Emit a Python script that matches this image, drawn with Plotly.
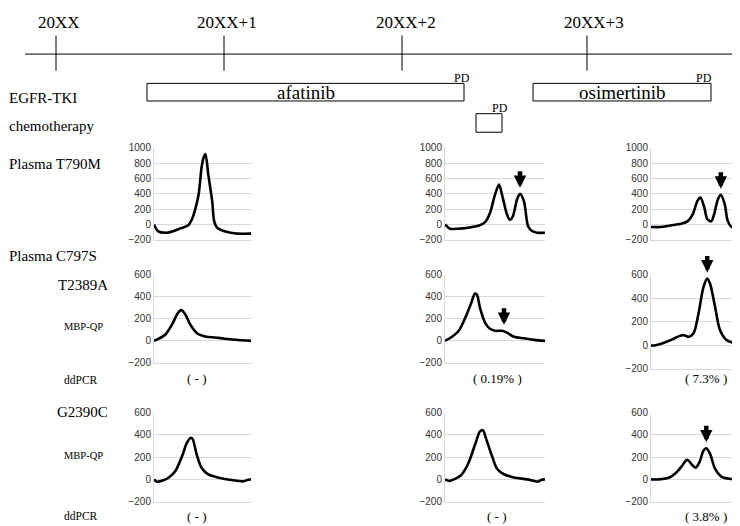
import plotly.graph_objects as go

W, H = 740, 526

# ---------------- data ----------------
year_labels = ["20XX", "20XX+1", "20XX+2", "20XX+3"]
drug_labels = ["afatinib", "osimertinib"]
row_labels = ["EGFR-TKI", "chemotherapy", "Plasma T790M", "Plasma C797S"]
mut_labels = ["T2389A", "G2390C"]
ddpcr_t2389a = ["( - )", "( 0.19% )", "( 7.3% )"]
ddpcr_g2390c = ["( - )", "( - )", "( 3.8% )"]

# Plasma T790M (MBP-QP curves)
t790m_a_x = [0, 4, 13, 20, 27, 35, 39, 42, 46, 49, 51, 53, 56, 60, 62, 65, 72, 79, 86, 100]
t790m_a_y = [0, -87, -108, -87, -52, -15, 65, 174, 390, 740, 870, 920, 650, 300, 43, -43, -87, -108, -120, -120]
t790m_b_x = [0, 5, 13, 23, 34, 40, 45, 50, 54, 57, 62, 65, 68, 72, 75, 79, 83, 87, 92, 100]
t790m_b_y = [0, -56, -56, -43, -15, 30, 150, 390, 520, 390, 130, 60, 110, 325, 400, 300, -20, -86, -108, -108]
t790m_c_x = [0, 10, 20, 31, 38, 43, 48, 51, 55, 58, 62, 65, 69, 72, 76, 79, 83, 88, 98, 100]
t790m_c_y = [-34, -34, -13, 9, 43, 130, 310, 350, 220, 70, 40, 130, 330, 388, 265, 50, -34, -56, -78, -80]

# Plasma C797S T2389A
t2389a_a_x = [0, 5, 12, 19, 24, 28, 32, 38, 45, 53, 63, 73, 87, 100]
t2389a_a_y = [0, 20, 60, 155, 245, 280, 245, 140, 65, 40, 30, 20, 8, 0]
t2389a_b_x = [0, 7, 14, 21, 26, 30, 32, 35, 40, 45, 50, 57, 62, 69, 79, 89, 100]
t2389a_b_y = [0, 37, 95, 225, 340, 430, 420, 300, 167, 110, 92, 92, 75, 37, 23, 9, 0]
t2389a_c_x = [0, 5, 12, 22, 29, 34, 39, 44, 49, 54, 58, 61, 66, 71, 78, 88, 97, 100]
t2389a_c_y = [-3, 0, 17, 50, 78, 86, 72, 105, 272, 494, 570, 522, 330, 133, 44, 14, 5, 5]

# Plasma C797S G2390C
g2390c_a_x = [0, 3, 9, 15, 22, 29, 34, 38, 40, 44, 49, 56, 67, 80, 92, 96, 100]
g2390c_a_y = [0, -20, -10, 15, 75, 210, 330, 375, 360, 225, 105, 45, 15, -6, -18, -6, 0]
g2390c_b_x = [0, 4, 9, 16, 23, 30, 35, 38, 41, 47, 52, 59, 69, 82, 93, 96, 100]
g2390c_b_y = [0, -14, 0, 37, 138, 311, 432, 441, 369, 210, 95, 46, 17, 0, -20, -6, 0]
g2390c_c_x = [0, 8, 19, 25, 31, 36, 38, 42, 46, 50, 54, 57, 61, 66, 73, 83, 92, 95, 100]
g2390c_c_y = [0, 0, 17, 52, 110, 169, 175, 134, 105, 155, 257, 280, 227, 96, 23, 3, -6, 3, 6]

# arrows marking the mutant peak: (panel index, x, y)
arrow_panel = [2, 3, 5, 6, 9]
arrow_x = [75, 72, 59, 58, 57]
arrow_y = [400, 388, 92, 570, 280]

t790m_ticks = [-200, 0, 200, 400, 600, 800, 1000]
c797s_ticks = [-200, 0, 200, 400, 600]

# ---------------- layout helpers ----------------
def px(x):
    return x / W

def py(y):
    return 1 - y / H

SERIF = "Liberation Serif"
SANS = "Liberation Sans"

panels = [
    (t790m_a_x, t790m_a_y, 1, 1, t790m_ticks),
    (t790m_b_x, t790m_b_y, 2, 1, t790m_ticks),
    (t790m_c_x, t790m_c_y, 3, 1, t790m_ticks),
    (t2389a_a_x, t2389a_a_y, 1, 2, c797s_ticks),
    (t2389a_b_x, t2389a_b_y, 2, 2, c797s_ticks),
    (t2389a_c_x, t2389a_c_y, 3, 2, c797s_ticks),
    (g2390c_a_x, g2390c_a_y, 1, 3, c797s_ticks),
    (g2390c_b_x, g2390c_b_y, 2, 3, c797s_ticks),
    (g2390c_c_x, g2390c_c_y, 3, 3, c797s_ticks),
]

col_px = {1: (146, 243), 2: (437, 537), 3: (643, 740)}
row_px = {1: (137, 231), 2: (267, 357), 3: (408, 499)}
row_px_c3 = {1: (137, 231), 2: (267, 363), 3: (408, 499)}

fig = go.Figure()
layout_axes = {}
grid = "#d9d9d9"
for i, (xs, ys, c, r, ticks) in enumerate(panels, start=1):
    sfx = "" if i == 1 else str(i)
    fig.add_trace(go.Scatter(
        x=xs, y=ys, mode="lines",
        line=dict(color="black", width=2.6, shape="spline", smoothing=0.8),
        xaxis="x" + sfx, yaxis="y" + sfx, showlegend=False, hoverinfo="skip"))
    x0, x1 = col_px[c]
    ytop, ybot = (row_px_c3 if c == 3 else row_px)[r]
    layout_axes["xaxis" + sfx] = dict(
        domain=[px(x0), px(x1)], range=[0, 100], showgrid=False, zeroline=False,
        showticklabels=False, ticks="", showline=True, linecolor=grid, linewidth=1,
        anchor="y" + sfx, fixedrange=True)
    layout_axes["yaxis" + sfx] = dict(
        domain=[py(ybot), py(ytop)], range=[ticks[0], ticks[-1]], tickvals=ticks,
        showgrid=True, gridcolor=grid, gridwidth=1, zeroline=False, ticks="",
        showline=True, linecolor=grid, linewidth=1,
        tickfont=dict(family=SANS, size=10, color="#333333"),
        anchor="x" + sfx, fixedrange=True)

fig.update_layout(**layout_axes)

shapes = []
ann = []

def text(x, y, s, size, anchor="center", family=SERIF):
    ann.append(dict(x=px(x), y=py(y), xref="paper", yref="paper", text=s,
                    showarrow=False, xanchor=anchor, yanchor="middle",
                    borderpad=0,
                    font=dict(family=family, size=size, color="black")))

# timeline
shapes.append(dict(type="line", xref="paper", yref="paper",
                   x0=px(17), x1=px(730), y0=py(41), y1=py(41),
                   line=dict(color="black", width=1)))
tick_px = [48, 216, 394, 579]
label_px = [51, 219, 398, 586]
for lab, tx, lx in zip(year_labels, tick_px, label_px):
    shapes.append(dict(type="line", xref="paper", yref="paper",
                       x0=px(tx), x1=px(tx), y0=py(22), y1=py(58),
                       line=dict(color="black", width=1)))
    text(lx, 9, lab, 17)

# treatment boxes
boxes = [(139, 456, 71, 89), (525, 703, 71, 89), (468, 494, 102, 121)]
for (bx0, bx1, by0, by1) in boxes:
    shapes.append(dict(type="rect", xref="paper", yref="paper",
                       x0=px(bx0), x1=px(bx1), y0=py(by1), y1=py(by0),
                       line=dict(color="black", width=1), fillcolor="white"))
text(298, 80, drug_labels[0], 19)
text(614, 80, drug_labels[1], 19)
text(454, 65, "PD", 12)
text(696, 65, "PD", 12)
text(492, 96, "PD", 12)

text(0, 86, row_labels[0], 15, "left")
text(0, 115, row_labels[1], 15, "left")
text(0, 153, row_labels[2], 15, "left")
text(0, 248, row_labels[3], 15, "left")

text(49, 277, mut_labels[0], 15, "left")
text(55, 320, "MBP-QP", 10.5, "left")
text(55, 375, "ddPCR", 11.5, "left")
text(48, 407, mut_labels[1], 15, "left")
text(55, 452, "MBP-QP", 10.5, "left")
text(55, 514, "ddPCR", 11.5, "left")

lab_x = [189, 489, 698]
for lx, s in zip(lab_x, ddpcr_t2389a):
    text(lx, 373, s, 13)
for lx, s in zip(lab_x, ddpcr_g2390c):
    text(lx, 514, s, 13)

# arrows
for p, axx, axy in zip(arrow_panel, arrow_x, arrow_y):
    sfx = "" if p == 1 else str(p)
    ann.append(dict(x=axx, y=axy, xref="x" + sfx, yref="y" + sfx, text="",
                    showarrow=True, ax=0, ay=-24, arrowhead=2, arrowwidth=4.5,
                    arrowsize=0.55, arrowcolor="black", standoff=6))

fig.update_layout(
    width=W, height=H, margin=dict(l=0, r=0, t=0, b=0),
    paper_bgcolor="white", plot_bgcolor="white",
    shapes=shapes, annotations=ann, showlegend=False,
)

fig.write_html("out.html")
